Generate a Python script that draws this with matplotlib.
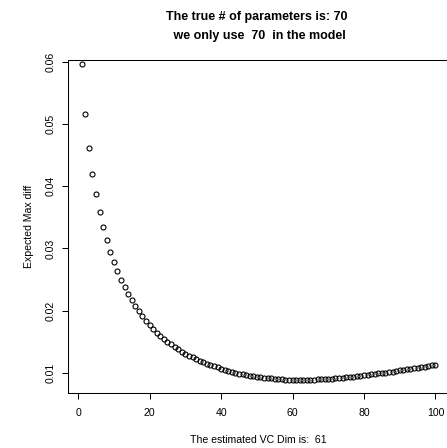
import matplotlib
matplotlib.use("Agg")
import matplotlib.pyplot as plt

plt.rcParams['font.family'] = ['Liberation Sans', 'DejaVu Sans']

# candidate model dimension
dims = list(range(1, 101))

# expected maximum deviation for each dimension
max_diff = [
    0.0596, 0.0516, 0.0461, 0.0420, 0.0387, 0.0358, 0.0334, 0.0314, 0.0295, 0.0279,
    0.0264, 0.0250, 0.0238, 0.0227, 0.0217, 0.0208, 0.0199, 0.0191, 0.0184, 0.0177,
    0.0171, 0.0165, 0.0160, 0.0155, 0.0150, 0.0146, 0.0142, 0.0138, 0.0134, 0.0131,
    0.0128, 0.0125, 0.0122, 0.0119, 0.0117, 0.0115, 0.0113, 0.0111, 0.0109, 0.0107,
    0.0105, 0.0103, 0.0102, 0.0100, 0.00990, 0.00978, 0.00967, 0.00957, 0.00948, 0.00940,
    0.00932, 0.00925, 0.00918, 0.00912, 0.00907, 0.00902, 0.00898, 0.00894, 0.00891, 0.00889,
    0.00888, 0.00889, 0.00889, 0.00890, 0.00892, 0.00894, 0.00896, 0.00899, 0.00903, 0.00906,
    0.00911, 0.00916, 0.00920, 0.00926, 0.00931, 0.00937, 0.00943, 0.00950, 0.00956, 0.00963,
    0.00970, 0.00977, 0.00985, 0.00992, 0.00999, 0.01008, 0.01016, 0.01024, 0.01032, 0.01041,
    0.01049, 0.01058, 0.01067, 0.01077, 0.01086, 0.01095, 0.01104, 0.01113, 0.01123, 0.01132,
]

true_params = 70
used_params = 70
vc_dim = dims[max_diff.index(min(max_diff))]

x_ticks = [0, 20, 40, 60, 80, 100]
y_ticks = [0.01, 0.02, 0.03, 0.04, 0.05, 0.06]
y_tick_labels = ["0.01", "0.02", "0.03", "0.04", "0.05", "0.06"]

W, H = 447, 448
fig = plt.figure(figsize=(W / 100, H / 100), dpi=100, facecolor='white')
ax = fig.add_axes([67.6 / W, 1 - 392.7 / H, 382.0 / W, 332.7 / H])

# open circles, R-style pch = 1
ax.plot(dims, max_diff, linestyle='none', marker='o', markersize=3.6,
        markerfacecolor='none', markeredgecolor='black', markeredgewidth=0.8)

ax.set_xlim(-2.96, 103.96)
ax.set_ylim(0.006836, 0.060273)
ax.set_xticks(x_ticks)
ax.set_yticks(y_ticks)
ax.set_xticklabels([str(t) for t in x_ticks], fontsize=7.6)
ax.set_yticklabels(y_tick_labels, fontsize=7.6, rotation=90, va='center')

for s in ax.spines.values():
    s.set_linewidth(0.75)
ax.tick_params(axis='both', direction='out', length=4.2, width=0.75,
               colors='black')
ax.tick_params(axis='x', pad=7.0)
ax.tick_params(axis='y', pad=4.5)

fig.text(258.6 / W, 1 - 440 / H,
         "The estimated VC Dim is:  %d" % vc_dim,
         ha='center', va='center', fontsize=7.6)
fig.text(29 / W, 1 - 226 / H, "Expected Max diff", rotation=90,
         ha='center', va='center', fontsize=7.6)

fig.text(256.3 / W, 1 - 16.7 / H, "The true # of parameters is: %d" % true_params,
         ha='center', va='center', fontsize=9.0, fontweight='bold')
fig.text(258 / W, 1 - 36.5 / H, " we only use  %d  in the model" % used_params,
         ha='center', va='center', fontsize=9.0, fontweight='bold')

fig.savefig("out.png", dpi=100, facecolor='white')
